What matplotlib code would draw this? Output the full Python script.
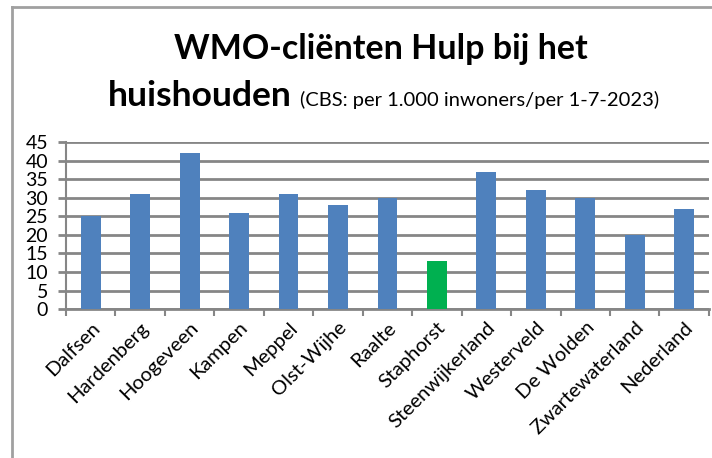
import numpy as np
import matplotlib.pyplot as plt
from matplotlib.lines import Line2D

# ==========================
# Data
# ==========================

gemeenten = ["Dalfsen", "Hardenberg", "Hoogeveen", "Kampen", "Meppel",
             "Olst-Wijhe", "Raalte", "Staphorst", "Steenwijkerland",
             "Westerveld", "De Wolden", "Zwartewaterland", "Nederland"]
clienten = [25, 31, 42, 26, 31, 28, 30, 13, 37, 32, 30, 20, 27]
highlight = "Staphorst"

blue = "#4f81bd"
green = "#00b050"
grey = "#868686"

plt.rcParams["font.family"] = ["Lato", "DejaVu Sans"]

# ==========================
# Figure
# ==========================

fig = plt.figure(figsize=(7.12, 4.58), dpi=100)
ax = fig.add_axes([0.0927, 0.325, 0.903, 0.365])

x = np.arange(len(gemeenten))
colors = [green if g == highlight else blue for g in gemeenten]
ax.bar(x, clienten, width=0.4, color=colors, zorder=3)

ax.set_ylim(0, 45)
ax.set_yticks(range(0, 46, 5))
ax.set_xlim(-0.5, len(gemeenten) - 0.5)
ax.yaxis.grid(True, color=grey, linewidth=2, zorder=0)

ax.set_xticks(np.arange(-0.5, len(gemeenten), 1.0))
ax.set_xticklabels([])
ax.set_xticks(x, minor=True)
ax.set_xticklabels(gemeenten, minor=True, rotation=45, ha="right",
                   rotation_mode="anchor", fontsize=14.5)
ax.tick_params(axis="x", which="major", length=5, width=1.5, color=grey)
ax.tick_params(axis="x", which="minor", length=0, pad=7)
ax.tick_params(axis="y", length=6, width=2, color=grey, labelsize=14, pad=7)

for s in ["top", "right"]:
    ax.spines[s].set_visible(False)
for s in ["bottom", "left"]:
    ax.spines[s].set_color(grey)
ax.spines["bottom"].set_linewidth(2)
ax.spines["left"].set_linewidth(1.5)

# ==========================
# Titles
# ==========================

fig.text(0.535, 0.872, "WMO-cliënten Hulp bij het", ha="center",
         fontsize=24.5, fontweight="bold")
fig.text(0.151, 0.768, "huishouden", ha="left", fontsize=25.5, fontweight="bold")
fig.text(0.422, 0.768, "(CBS: per 1.000 inwoners/per 1-7-2023)", ha="left",
         fontsize=14.5)

# frame of the chart area
fig.add_artist(Line2D([0.017, 0.017], [0.0, 0.985], color="#a0a0a0", lw=2))
fig.add_artist(Line2D([0.017, 1.0], [0.985, 0.985], color="#a0a0a0", lw=2))

plt.savefig("out.png", dpi=100)
